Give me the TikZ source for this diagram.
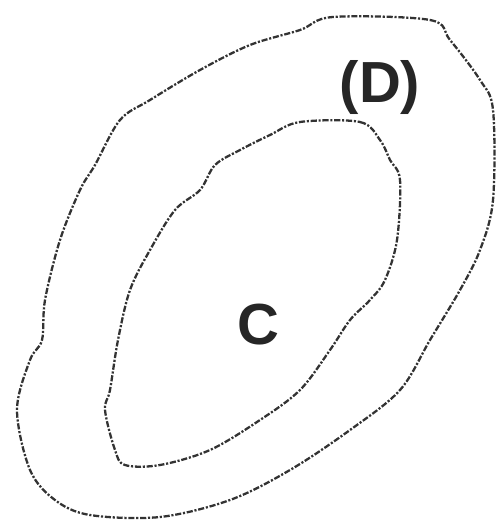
\documentclass[tikz,border=0pt]{standalone}
\usepackage{fontspec}
\setmainfont{Liberation Sans}
\usepackage{tikz}
\usetikzlibrary{positioning}

\begin{document}
\begin{tikzpicture}[x=0.02cm,y=-0.02cm,
     rim/.style={draw=black!80,line width=1.3pt,dash pattern=on 3.5pt off 1pt on 1.2pt off 1pt},
     lbl/.style={font=\fontsize{33}{33}\selectfont\bfseries,text=black!85,inner sep=0pt}]
    \useasboundingbox (0,0) rectangle (500,526);
    % outer region D
    \draw[rim] plot[smooth cycle,tension=0.55] coordinates {
      (333,17) (430,20) (450,40) (480,80) (493,110) (493,200) (480,250)
      (460,290) (430,340) (400,390) (350,430) (290,470) (230,500) (160,517)
      (90,515) (55,500) (30,470) (17,410) (30,360) (42,340) (45,300)
      (60,240) (80,190) (95,165) (120,120) (150,100) (200,70) (250,45) (300,30)};
    % inner region C
    \draw[rim] plot[smooth cycle,tension=0.55] coordinates {
      (300,122) (360,122) (380,140) (390,160) (400,180) (397,240) (385,280)
      (370,300) (350,320) (330,350) (300,390) (260,420) (210,450) (160,465)
      (125,465) (115,450) (105,410) (110,390) (118,340) (130,290) (150,250)
      (175,210) (200,190) (215,165) (240,150) (270,135)};
    \node[lbl] (dlab) at (380,88) {(D)};
    \node[lbl] (clab) at (258,325) {C};
  \end{tikzpicture}
\end{document}
